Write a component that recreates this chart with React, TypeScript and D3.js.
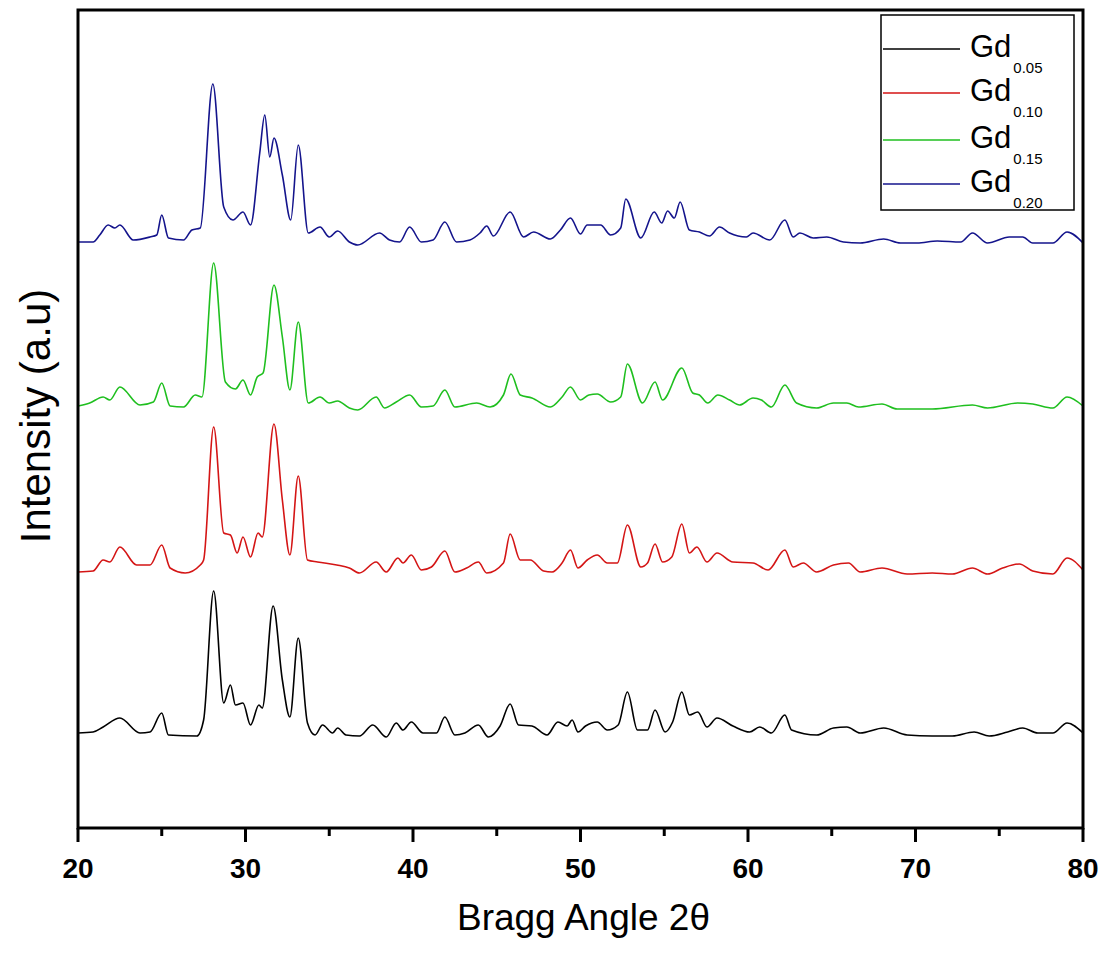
import React from "react";
import * as d3 from "d3";

// Bragg angle (2θ, degrees) and intensity (a.u., vertically offset stacks)
const angles005 = [20.0,20.9,21.5,22.5,23.7,24.3,25.0,25.4,27.1,27.5,28.1,28.7,29.1,29.4,29.85,30.3,30.8,31.0,31.65,32.2,32.65,33.15,33.7,34.15,34.6,35.2,35.5,36.0,36.8,37.6,38.4,39.0,39.4,39.9,40.6,41.4,41.9,42.5,43.1,43.9,44.5,45.2,45.8,46.3,47.1,48.0,48.65,49.2,49.5,49.85,50.3,51.0,51.6,52.25,52.8,53.4,54.0,54.45,55.05,55.5,56.05,56.5,57.0,57.55,58.15,59.1,60.1,60.7,61.4,62.2,62.6,64.1,65.1,65.9,66.7,68.1,69.5,71.0,72.2,73.5,74.4,75.5,76.4,77.3,78.2,79.05,80.0];
const gd005 = [95,96,101,110,95,96,115,93,92,108,237,125,143,123,125,103,123,120,222,148,111,190,105,93,103,95,100,93,92,103,91,105,98,106,95,95,111,93,95,103,91,102,124,103,102,93,106,102,108,96,102,106,98,103,136,98,98,118,96,106,136,113,116,101,110,102,96,101,95,113,98,93,100,101,95,100,93,92,92,96,92,96,100,95,95,105,95];

const angles010 = [20.0,20.9,21.5,21.9,22.5,23.5,24.3,25.0,25.5,26.4,27.3,27.5,28.1,28.7,29.1,29.5,29.85,30.3,30.75,31.0,31.7,32.2,32.65,33.15,33.7,34.3,35.45,36.2,36.8,37.8,38.4,39.1,39.4,39.9,40.5,41.1,41.9,42.5,43.2,43.9,44.4,45.4,45.8,46.4,47.0,47.8,48.3,48.9,49.4,49.85,50.4,51.0,51.6,52.2,52.8,53.6,54.0,54.45,54.9,55.45,56.05,56.5,56.95,57.55,58.15,59.1,60.3,61.2,62.2,62.7,63.3,64.1,65.1,66.0,66.7,68.0,69.5,71.0,72.2,73.4,74.3,75.2,76.2,77.0,78.2,79.05,80.0];
const gd010 = [256,257,268,266,281,263,263,283,260,255,263,268,401,295,293,275,291,271,295,291,404,328,273,352,268,266,263,260,255,266,256,270,265,273,258,261,277,256,260,266,255,265,294,268,268,257,256,265,278,260,268,273,265,265,303,261,265,284,266,271,304,275,281,266,275,266,265,258,278,261,265,256,263,265,256,260,254,255,254,260,254,260,264,257,254,270,258];

const angles015 = [20.0,20.7,21.5,21.9,22.5,23.7,24.5,25.0,25.5,26.3,27.0,27.4,28.1,28.8,29.4,29.85,30.3,30.7,31.05,31.7,32.2,32.65,33.15,33.75,34.45,35.0,35.5,36.2,36.7,37.8,38.3,39.0,39.8,40.5,41.2,41.9,42.5,43.8,44.6,45.4,45.85,46.4,47.1,48.2,48.9,49.4,50.0,50.5,51.0,51.8,52.4,52.8,53.7,54.45,54.9,56.05,56.7,57.1,57.6,58.2,58.9,59.5,60.3,60.8,61.4,62.2,62.9,64.1,65.1,65.9,66.6,68.0,68.9,71.0,73.4,74.3,76.1,77.0,78.2,79.05,80.0];
const gd015 = [422,425,431,428,441,423,426,445,422,421,433,431,565,446,439,448,433,451,455,543,491,438,506,425,431,425,427,420,418,431,420,426,433,421,422,438,421,425,421,433,454,433,430,421,431,441,428,433,434,426,431,464,425,446,428,460,435,433,425,433,428,423,430,428,421,443,425,420,425,425,421,424,419,419,423,420,425,424,420,431,422];

const angles020 = [20.0,20.9,21.3,21.8,22.2,22.5,23.3,24.3,24.7,25.0,25.4,26.3,26.8,27.3,28.05,28.7,29.25,29.85,30.3,30.85,31.15,31.45,31.7,32.2,32.7,33.15,33.75,34.45,35.0,35.5,36.2,36.7,38.0,38.6,39.2,39.8,40.5,41.2,41.9,42.6,43.4,44.0,44.4,44.8,45.8,46.6,47.2,48.2,48.8,49.4,50.0,50.4,51.2,51.8,52.4,52.7,53.6,54.4,54.85,55.2,55.6,55.95,56.5,57.1,57.7,58.3,58.9,59.9,60.3,61.3,62.2,62.7,63.1,63.9,64.7,65.7,66.7,68.1,69.1,70.1,71.3,72.7,73.4,74.3,75.6,76.4,77.0,78.2,79.05,80.0];
const gd020 = [586,586,593,603,600,603,588,591,593,613,590,588,598,600,744,621,608,616,603,675,713,671,690,653,608,683,595,601,591,597,586,583,595,588,586,601,586,588,606,586,588,595,602,592,616,591,596,589,598,610,594,603,603,593,600,629,590,616,605,617,610,626,598,596,592,601,595,591,595,588,608,591,595,590,591,586,585,589,585,585,587,586,595,585,591,591,585,585,596,585];

const seriesNames = ["0.05", "0.10", "0.15", "0.20"];
const seriesColors = ["#000000", "#d41515", "#1fbf1f", "#14148c"];
const seriesAngles = [angles005, angles010, angles015, angles020];
const seriesValues = [gd005, gd010, gd015, gd020];

const xDomain = [20, 80];
const yDomain = [0, 818];
const majorTicks = [20, 30, 40, 50, 60, 70, 80];
const minorTicks = [25, 35, 45, 55, 65, 75];

export default function App() {
  const W = 1105, H = 953;
  const left = 78, right = 1083, top = 10, bottom = 828;
  const x = d3.scaleLinear().domain(xDomain).range([left, right]);
  const y = d3.scaleLinear().domain(yDomain).range([bottom, top]);
  const line = d3.line<[number, number]>().x(d => x(d[0])).y(d => y(d[1])).curve(d3.curveMonotoneX);

  const legendRows = [49, 93, 140, 184];

  return (
    <svg width={W} height={H} style={{ position: "absolute", left: 0, top: 0, background: "#fff" }}
      fontFamily="'Liberation Sans', Arial, sans-serif">
      <rect x={0} y={0} width={W} height={H} fill="#fff" />
      {seriesValues.map((vals, i) => (
        <path key={i} d={line(vals.map((v, j) => [seriesAngles[i][j], v] as [number, number])) || ""}
          fill="none" stroke={seriesColors[i]} strokeWidth={1.6} strokeLinejoin="round" />
      ))}
      {/* frame */}
      <rect x={left} y={top} width={right - left} height={bottom - top} fill="none" stroke="#000" strokeWidth={3} />
      {majorTicks.map(t => (
        <g key={"M" + t}>
          <line x1={x(t)} x2={x(t)} y1={bottom} y2={bottom + 14} stroke="#000" strokeWidth={3} />
          <text x={x(t)} y={878} textAnchor="middle" fontSize={28} fontWeight="bold">{t}</text>
        </g>
      ))}
      {minorTicks.map(t => (
        <line key={"m" + t} x1={x(t)} x2={x(t)} y1={bottom} y2={bottom + 8} stroke="#000" strokeWidth={3} />
      ))}
      <text x={(left + right) / 2 + 3} y={930} textAnchor="middle" fontSize={37}>Bragg Angle 2θ</text>
      <text transform={`translate(50, ${(top + bottom) / 2 - 3}) rotate(-90)`} textAnchor="middle" fontSize={42}>Intensity (a.u)</text>
      {/* legend */}
      <rect x={881} y={15} width={193} height={195} fill="#fff" stroke="#000" strokeWidth={1.5} />
      {seriesNames.map((n, i) => (
        <g key={n}>
          <line x1={883} x2={960} y1={legendRows[i]} y2={legendRows[i]} stroke={seriesColors[i]} strokeWidth={1.6} />
          <text x={970} y={legendRows[i] + 8} fontSize={31}>Gd<tspan fontSize={15} dx={2} dy={16}>{n}</tspan></text>
        </g>
      ))}
    </svg>
  );
}
